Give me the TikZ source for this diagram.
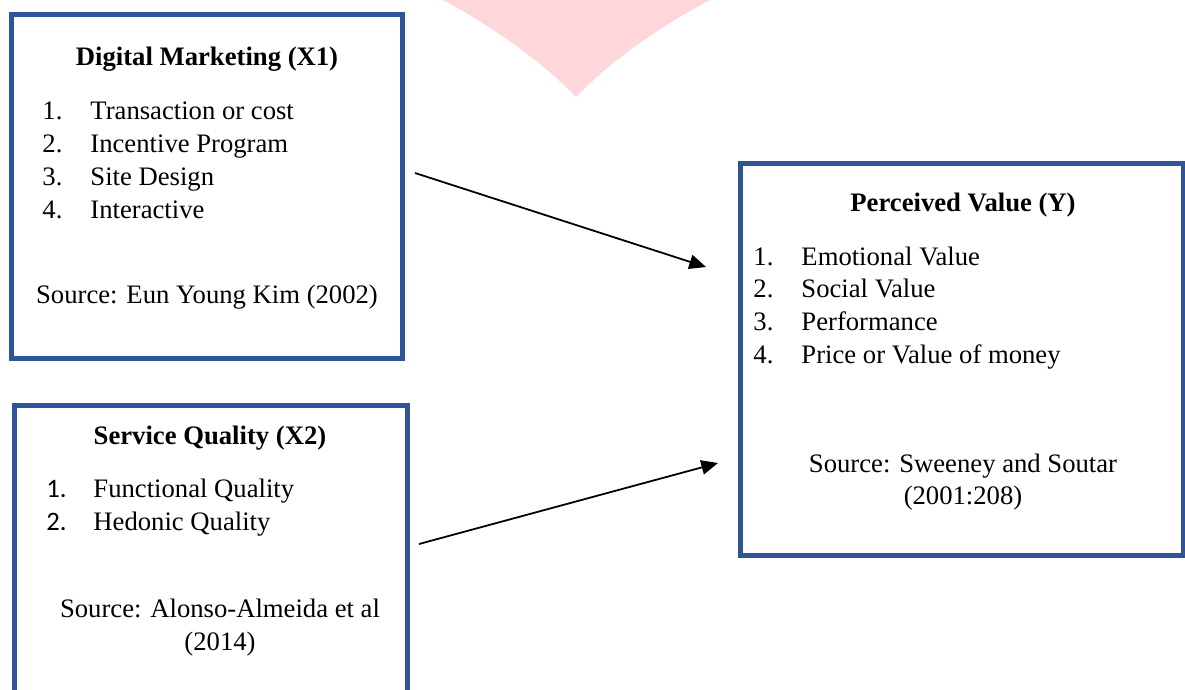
\documentclass[tikz,border=0pt]{standalone}
\usepackage{fontspec}
\setmainfont{Liberation Serif}
\newfontfamily\numfont{Carlito}
\usetikzlibrary{arrows.meta,fit}
\definecolor{boxblue}{RGB}{47,85,151}
\definecolor{markpink}{RGB}{255,215,219}

\begin{document}
\begin{tikzpicture}[x=0.45pt,y=-0.45pt,
  box/.style={draw=boxblue,line width=2.25pt,inner sep=0pt},
  txt/.style={anchor=base west,inner sep=0pt,font=\fontsize{12}{15}\selectfont},
  ttl/.style={anchor=base,inner sep=0pt,font=\fontsize{12}{15}\selectfont\bfseries},
  src/.style={anchor=base,inner sep=0pt,font=\fontsize{12}{15}\selectfont},
  arr/.style={-{Triangle[length=7.5pt,width=6.5pt]},line width=0.8pt}]
  \useasboundingbox (0,0) rectangle (1185,689);
  % watermark
  \fill[markpink] (443,0) .. controls (490,25) and (540,60) .. (576,97)
    .. controls (612,60) and (662,25) .. (710,0) -- cycle;

  % boxes
  \node[box,fit={(11,14) (402,358)}] (dm) {};
  \node[box,fit={(14,405) (407,700)}] (sq) {};
  \node[box,fit={(740,163) (1183,555)}] (pv) {};

  % digital marketing
  \node[ttl] (dmt) at (207,65) {Digital Marketing (X1)};
  \node[txt] (dmn1) at (42,119) {1.};
  \node[txt] (dmi1) at (90,119) {Transaction or cost};
  \node[txt] (dmn2) at (42,152) {2.};
  \node[txt] (dmi2) at (90,152) {Incentive Program};
  \node[txt] (dmn3) at (42,185) {3.};
  \node[txt] (dmi3) at (90,185) {Site Design};
  \node[txt] (dmn4) at (42,218) {4.};
  \node[txt] (dmi4) at (90,218) {Interactive};
  \node[src] (dms) at (207,303) {Source: Eun Young Kim (2002)};

  % service quality
  \node[ttl] (sqt) at (210,444) {Service Quality (X2)};
  \node[txt,font=\fontsize{12}{15}\numfont] (sqn1) at (46,497) {1.};
  \node[txt] (sqi1) at (93,497) {Functional Quality};
  \node[txt,font=\fontsize{12}{15}\numfont] (sqn2) at (46,530) {2.};
  \node[txt] (sqi2) at (93,530) {Hedonic Quality};
  \node[src] (sqs) at (220,617) {Source: Alonso-Almeida et al};
  \node[src] (sqy) at (220,650) {(2014)};

  % perceived value
  \node[ttl] (pvt) at (963,211) {Perceived Value (Y)};
  \node[txt] (pvn1) at (753,265) {1.};
  \node[txt] (pvi1) at (801,265) {Emotional Value};
  \node[txt] (pvn2) at (753,297) {2.};
  \node[txt] (pvi2) at (801,297) {Social Value};
  \node[txt] (pvn3) at (753,330) {3.};
  \node[txt] (pvi3) at (801,330) {Performance};
  \node[txt] (pvn4) at (753,363) {4.};
  \node[txt] (pvi4) at (801,363) {Price or Value of money};
  \node[src] (pvs) at (963,472) {Source: Sweeney and Soutar};
  \node[src] (pvy) at (963,504) {(2001:208)};

  % arrows
  \coordinate (a1) at (415,173);
  \coordinate (b1) at (706,267);
  \coordinate (a2) at (419,544);
  \coordinate (b2) at (718,463);
  \draw[arr] (a1) -- (b1);
  \draw[arr] (a2) -- (b2);

\end{tikzpicture}
\end{document}
